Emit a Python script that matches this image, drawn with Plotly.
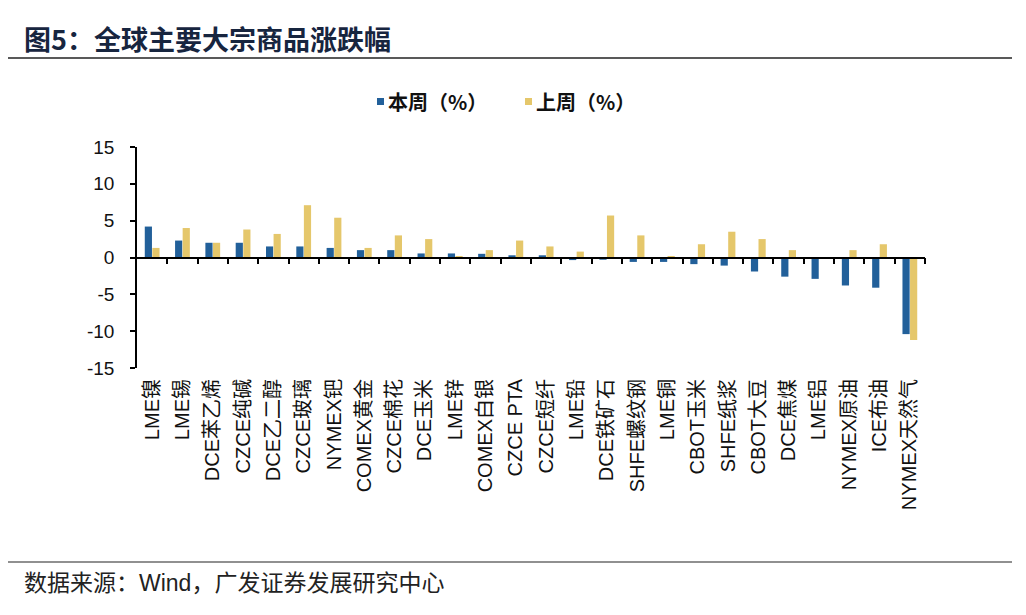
import plotly.graph_objects as go

categories = ["LME镍", "LME锡", "DCE苯乙烯", "CZCE纯碱", "DCE乙二醇", "CZCE玻璃", "NYMEX钯",
              "COMEX黄金", "CZCE棉花", "DCE玉米", "LME锌", "COMEX白银", "CZCE PTA", "CZCE短纤",
              "LME铅", "DCE铁矿石", "SHFE螺纹钢", "LME铜", "CBOT玉米", "SHFE纸浆", "CBOT大豆",
              "DCE焦煤", "LME铝", "NYMEX原油", "ICE布油", "NYMEX天然气"]
this_week = [4.2, 2.3, 2.0, 2.0, 1.5, 1.5, 1.3, 1.0, 1.0, 0.55, 0.55, 0.5, 0.3, 0.3,
             -0.35, -0.3, -0.6, -0.6, -0.9, -1.1, -1.9, -2.6, -2.9, -3.8, -4.1, -10.4]
last_week = [1.3, 4.0, 2.0, 3.8, 3.2, 7.1, 5.4, 1.3, 3.0, 2.5, 0.1, 1.0, 2.3, 1.5,
             0.8, 5.7, 3.0, 0.1, 1.8, 3.5, 2.5, 1.0, -0.2, 1.0, 1.8, -11.2]
series_names = ["本周（%）", "上周（%）"]
y_ticks = [15, 10, 5, 0, -5, -10, -15]
y_tick_labels = ["15", "10", "5", "0", "-5", "-10", "-15"]

# page has an 8px body margin; figure fills the rest of the 1026x615 window
OFF = 8
W, H = 1026 - 2 * OFF, 615 - 2 * OFF
# plot area in screen pixels
L, R, T, B = 137, 925, 147, 368

def px(x):
    return (x - L) / (R - L)

def py(y):
    return (B - y) / (B - T)

BLUE = "#22609A"
GOLD = "#E5C76B"
LAT = "Liberation Sans, Arial, Noto Sans CJK SC, sans-serif"
CJKB = "Noto Sans CJK SC, sans-serif"

fig = go.Figure()
fig.add_trace(go.Bar(x=categories, y=this_week, name=series_names[0], marker_color=BLUE,
                     marker_line_width=0))
fig.add_trace(go.Bar(x=categories, y=last_week, name=series_names[1], marker_color=GOLD,
                     marker_line_width=0))

n = len(categories)
fig.update_layout(
    width=W, height=H,
    margin=dict(l=L - OFF, r=W - (R - OFF), t=T - OFF, b=H - (B - OFF), autoexpand=False),
    paper_bgcolor="white", plot_bgcolor="white",
    barmode="group", bargap=0.5, bargroupgap=0.05,
    font=dict(family=LAT, color="black"),
    showlegend=False,
    xaxis=dict(type="category", categoryorder="array", categoryarray=categories,
               range=[-0.5, n - 0.5], showline=False, ticks="", showgrid=False,
               zeroline=False, tickangle=-90, ticklabelstandoff=6,
               tickfont=dict(size=20, family=LAT, color="#111")),
    xaxis2=dict(overlaying="x", anchor="free", position=0.5, side="bottom",
                range=[-0.5, n - 0.5], tickmode="array",
                tickvals=[i + 0.5 for i in range(n)], ticks="outside", ticklen=6,
                tickwidth=1.5, tickcolor="black", showticklabels=False, showline=True,
                linecolor="black", linewidth=1.5, showgrid=False, zeroline=False),
    yaxis=dict(range=[-15, 15], tickmode="array", tickvals=y_ticks, ticktext=y_tick_labels,
               ticks="outside",
               ticklen=5, tickwidth=1.5, tickcolor="black", showline=True, linecolor="black",
               linewidth=1.5, showgrid=False, zeroline=False, ticklabelstandoff=12,
               tickfont=dict(size=19, family="Liberation Sans, Arial, sans-serif", color="#111")),
)
# invisible trace to enable xaxis2
fig.add_trace(go.Scatter(x=[0, n - 1], y=[0, 0], xaxis="x2", yaxis="y", mode="markers",
                         marker=dict(opacity=0), showlegend=False, hoverinfo="skip"))

# custom legend
for i, (name, col) in enumerate(zip(series_names, [BLUE, GOLD])):
    x0 = 377 + i * 148
    fig.add_shape(type="rect", xref="paper", yref="paper", x0=px(x0), x1=px(x0 + 7),
                  y0=py(105), y1=py(98), fillcolor=col, line_width=0)
    fig.add_annotation(text="<b>" + name + "</b>", xref="paper", yref="paper",
                       x=px(x0 + 9), y=py(101.5), xanchor="left", yanchor="middle",
                       showarrow=False, font=dict(size=20, family=CJKB, color="#111"))

fig.add_annotation(text="<b>图5：全球主要大宗商品涨跌幅</b>", xref="paper", yref="paper",
                   x=px(22), y=py(38), xanchor="left", yanchor="middle", showarrow=False,
                   font=dict(size=27, family=CJKB, color="#17253F"))
fig.add_annotation(text="数据来源：Wind，广发证券发展研究中心", xref="paper", yref="paper",
                   x=px(22), y=py(583), xanchor="left", yanchor="middle", showarrow=False,
                   font=dict(size=23, family="Liberation Sans, Noto Sans CJK SC, sans-serif",
                             color="#222"))
fig.add_shape(type="line", xref="paper", yref="paper", x0=px(8), x1=px(1012),
              y0=py(58), y1=py(58), line=dict(color="#222", width=1.5))
fig.add_shape(type="line", xref="paper", yref="paper", x0=px(8), x1=px(1012),
              y0=py(562), y1=py(562), line=dict(color="#222", width=1.2))

fig.write_html("out.html")
